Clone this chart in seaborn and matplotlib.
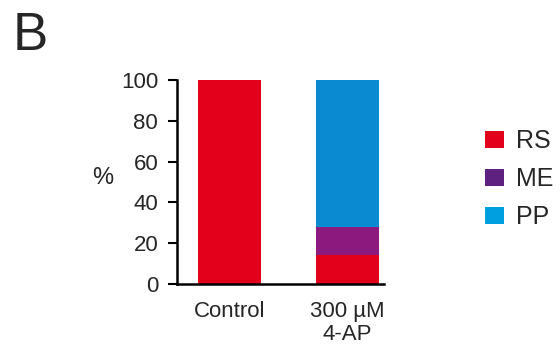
import matplotlib
matplotlib.use("Agg")
import matplotlib.pyplot as plt
import seaborn as sns
from matplotlib.patches import Patch

sns.set_style("white")
plt.rcParams['font.family'] = ['Liberation Sans', 'DejaVu Sans']

conditions = ["Control", "300 µM\n4-AP"]
types = ["RS", "ME", "PP"]
rs_vals = [100, 14]
me_vals = [0, 14]
pp_vals = [0, 72]

bar_colors = {"RS": "#E2001A", "ME": "#8C1A7E", "PP": "#0A8AD0"}
legend_colors = {"RS": "#E2001A", "ME": "#5E2180", "PP": "#009FE0"}

fig = plt.figure(figsize=(5.6, 3.54), dpi=100)
ax = fig.add_axes([0.316, 0.198, 0.370, 0.576])

cum_rs = rs_vals
cum_me = [a + b for a, b in zip(rs_vals, me_vals)]
cum_pp = [a + b for a, b in zip(cum_me, pp_vals)]
for t, vals in [("PP", cum_pp), ("ME", cum_me), ("RS", cum_rs)]:
    sns.barplot(x=conditions, y=vals, color=bar_colors[t], ax=ax,
                width=0.53, saturation=1, order=conditions, linewidth=0,
                edgecolor='none')

ax.set_xlim(-0.445, 1.31)
ax.set_ylim(0, 100)
ax.set_yticks([0, 20, 40, 60, 80, 100])
ax.tick_params(axis='y', left=True, length=6.5, width=1.5, labelsize=16, pad=7, color='black')
ax.tick_params(axis='x', bottom=False, labelsize=16, pad=9)
for lbl in ax.get_xticklabels():
    lbl.set_linespacing(1.1)
sns.despine(ax=ax)
for s in ('left', 'bottom'):
    ax.spines[s].set_linewidth(1.8)
    ax.spines[s].set_color('black')
ax.set_xlabel("")
ax.set_ylabel("%", fontsize=17, rotation=0, labelpad=0, va='center', ha='center')
ax.yaxis.set_label_coords(-0.36, 0.52)

handles = [Patch(facecolor=legend_colors[t], edgecolor='none', label=t) for t in types]
fig.legend(handles=handles, loc='upper left', bbox_to_anchor=(0.866, 0.635),
           frameon=False, fontsize=18, handlelength=0.76, handleheight=0.64,
           handletextpad=0.5, labelspacing=0.56, borderpad=0, borderaxespad=0)

fig.text(0.022, 0.97, "B", fontsize=38, va='top', ha='left')

fig.savefig("out.png", dpi=100)
